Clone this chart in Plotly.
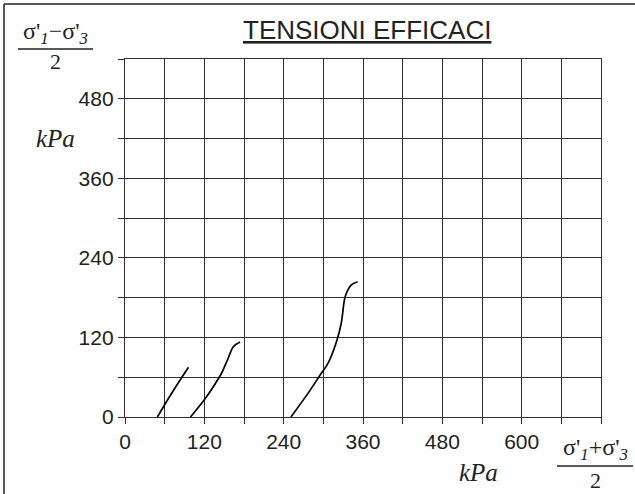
import plotly.graph_objects as go

# effective stress paths (p' , q') in kPa
p1 = [49, 72, 96]
q1 = [0, 38, 75]

p2 = [99, 120, 137, 146, 155, 164, 174]
q2 = [0, 26, 51, 66, 86, 106, 113]

p3 = [251, 277, 295, 307, 320, 327, 332, 335, 342, 352]
q3 = [0, 36, 63, 81, 114, 141, 177, 187, 199, 204]

x_ticks = list(range(0, 721, 60))
y_ticks = list(range(0, 541, 60))
x_labels = [str(v) if v % 120 == 0 and v < 720 else "" for v in x_ticks]
y_labels = [str(v) if v % 120 == 0 and v < 540 else "" for v in y_ticks]

W, H = 635, 494
L, R, T, B = 125, 601, 59, 417   # plot area in pixels


def px(x):
    return (x - L) / (R - L)


def py(y):
    return (B - y) / (B - T)


SANS = "Liberation Sans, Arial, sans-serif"
SERIF = "Liberation Serif, Times New Roman, serif"

fig = go.Figure()
for xs, ys in [(p1, q1), (p2, q2), (p3, q3)]:
    fig.add_trace(go.Scatter(x=xs, y=ys, mode='lines', line=dict(color='black', width=1.7, shape='spline'),
                             showlegend=False, hoverinfo='skip'))

axis_common = dict(
    showgrid=True, gridcolor='#303030', gridwidth=1.4,
    showline=True, linecolor='#303030', linewidth=1.4, mirror=True,
    ticks='outside', ticklen=6, tickwidth=1.4, tickcolor='#303030',
    zeroline=False, tickfont=dict(family=SANS, size=21, color='#222'),
)
fig.update_xaxes(range=[0, 720], tickvals=x_ticks, ticktext=x_labels, **axis_common)
fig.update_yaxes(range=[0, 540], tickvals=y_ticks, ticktext=y_labels, **axis_common)

ann = [
    dict(text="<u>TENSIONI EFFICACI</u>", x=px(367), y=py(30), font=dict(family=SANS, size=26, color='#222')),
    dict(text="<i>kPa</i>", x=px(55), y=py(138), font=dict(family=SERIF, size=25, color='#222')),
    dict(text="<i>kPa</i>", x=px(478), y=py(472), font=dict(family=SERIF, size=25, color='#222')),
    dict(text="σ'<sub><i>1</i></sub>−σ'<sub><i>3</i></sub>", x=px(55), y=py(33), font=dict(family=SERIF, size=24, color='#222')),
    dict(text="2", x=px(55), y=py(61), font=dict(family=SERIF, size=22, color='#222')),
    dict(text="σ'<sub><i>1</i></sub>+σ'<sub><i>3</i></sub>", x=px(595), y=py(449), font=dict(family=SERIF, size=24, color='#222')),
    dict(text="2", x=px(595), y=py(480), font=dict(family=SERIF, size=22, color='#222')),
]
for a in ann:
    fig.add_annotation(xref='paper', yref='paper', showarrow=False, xanchor='center', yanchor='middle', **a)

# fraction bars and the frame around the drawing
line = dict(color='#222', width=1.5)
fig.add_shape(type='line', xref='paper', yref='paper', x0=px(18), x1=px(93), y0=py(49), y1=py(49), line=line)
fig.add_shape(type='line', xref='paper', yref='paper', x0=px(557), x1=px(633), y0=py(466), y1=py(466), line=line)
fig.add_shape(type='line', xref='paper', yref='paper', x0=px(4), x1=px(635), y0=py(4), y1=py(4), line=line)
fig.add_shape(type='line', xref='paper', yref='paper', x0=px(4), x1=px(4), y0=py(4), y1=py(494), line=line)

fig.update_layout(
    width=W, height=H, autosize=False,
    margin=dict(l=L, r=W - R, t=T, b=H - B),
    plot_bgcolor='white', paper_bgcolor='white',
)
fig.write_html("out.html", config={'displayModeBar': False},
               post_script="document.body.style.margin='0';document.body.style.overflow='hidden';")
